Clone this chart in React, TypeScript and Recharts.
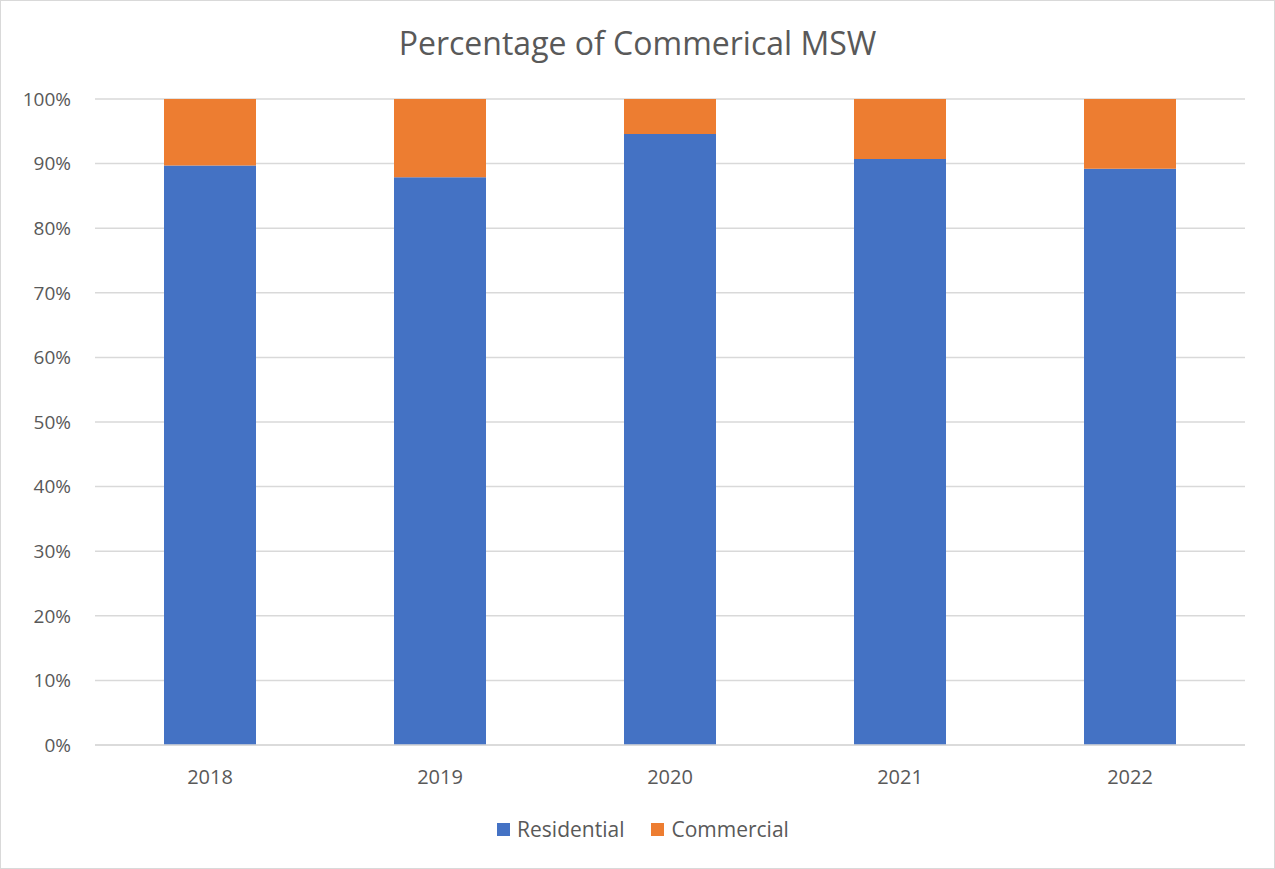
import { BarChart, Bar, XAxis, YAxis, CartesianGrid, Legend } from "recharts";

const years = ["2018", "2019", "2020", "2021", "2022"];
const residential = [89.7, 87.9, 94.6, 90.7, 89.2];
const commercial = [10.3, 12.1, 5.4, 9.3, 10.8];
const yTicks = [0, 10, 20, 30, 40, 50, 60, 70, 80, 90, 100];
const seriesOrder = ["Residential", "Commercial"];

const data = years.map((year, i) => ({
  year,
  Residential: residential[i],
  Commercial: commercial[i],
}));

const font = "'Open Sans', Calibri, sans-serif";
const textColor = "#595959";

function LegendContent(props: any) {
  const items = [...(props.payload || [])].sort(
    (a: any, b: any) => seriesOrder.indexOf(a.value) - seriesOrder.indexOf(b.value)
  );
  return (
    <div
      style={{
        display: "flex",
        justifyContent: "center",
        gap: 27,
        paddingTop: 20,
        paddingLeft: 40,
        fontSize: 21,
        fontFamily: font,
        color: textColor,
      }}
    >
      {items.map((item: any) => (
        <div key={item.value} style={{ display: "flex", alignItems: "center", gap: 7 }}>
          <span style={{ width: 13, height: 13, background: item.color, display: "inline-block" }} />
          <span>{item.value}</span>
        </div>
      ))}
    </div>
  );
}

export default function App() {
  return (
    <div
      style={{
        position: "absolute",
        left: 0,
        top: 0,
        width: 1275,
        height: 869,
        border: "1px solid #d9d9d9",
        boxSizing: "border-box",
        background: "#fff",
        fontFamily: font,
      }}
    >
      <div
        style={{
          position: "absolute",
          top: 20,
          width: "100%",
          textAlign: "center",
          fontSize: 32,
          color: textColor,
        }}
      >
        Percentage of Commerical MSW
      </div>
      <BarChart
        width={1273}
        height={867}
        data={data}
        margin={{ top: 98, right: 29, left: 0, bottom: 25 }}
        barCategoryGap="30%"
      >
        <CartesianGrid vertical={false} stroke="#d9d9d9" strokeWidth={1.5} />
        <XAxis
          dataKey="year"
          axisLine={{ stroke: "#d9d9d9", strokeWidth: 1.5 }}
          tickLine={false}
          tickSize={0}
          tickMargin={25}
          height={50}
          tick={{ fill: textColor, fontSize: 20, fontFamily: font }}
        />
        <YAxis
          domain={[0, 100]}
          ticks={yTicks}
          tickFormatter={(v) => `${v}%`}
          axisLine={false}
          tickLine={false}
          tickSize={0}
          tickMargin={24}
          width={94}
          tick={{ fill: textColor, fontSize: 19, fontFamily: font }}
        />
        <Legend verticalAlign="bottom" content={LegendContent} />
        <Bar dataKey="Residential" stackId="a" fill="#4472C4" isAnimationActive={false} />
        <Bar dataKey="Commercial" stackId="a" fill="#ED7D31" isAnimationActive={false} />
      </BarChart>
    </div>
  );
}
